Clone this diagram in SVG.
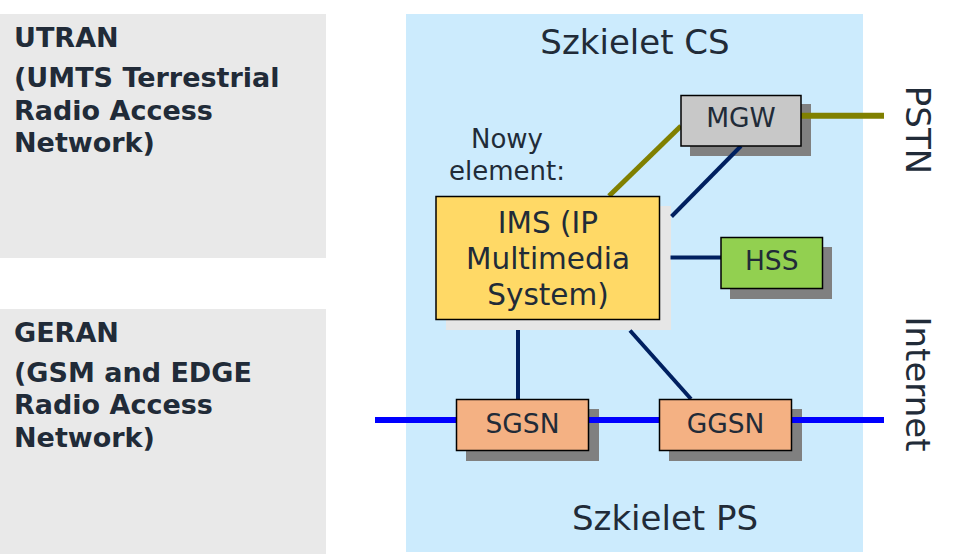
<svg xmlns="http://www.w3.org/2000/svg" width="955" height="554" viewBox="0 0 955 554">
<style>
text{font-family:"DejaVu Sans","Liberation Sans",sans-serif;fill:#212b38}
.ran{font-size:27px;font-weight:bold}
.big{font-size:34px;text-anchor:middle}
.lbl{font-size:26.5px;text-anchor:middle}
.ims{font-size:29.5px;text-anchor:middle}
.note{font-size:26px;text-anchor:middle}
.box{stroke:#000;stroke-width:1.5}
.shd{fill:#808080}
.olive{stroke:#808000;stroke-width:5;fill:none}
.navy{stroke:#002060;stroke-width:4;fill:none}
.blue{stroke:#0000ff;stroke-width:6;fill:none}
</style>
<rect width="955" height="554" fill="#fff"/>
<g id="utran">
<rect x="0" y="14" width="326" height="244" fill="#e9e9e9"/>
<text class="ran" x="14" y="47">UTRAN</text>
<text class="ran" x="14" y="87">(UMTS Terrestrial</text>
<text class="ran" x="14" y="119.5">Radio Access</text>
<text class="ran" x="14" y="152">Network)</text>
</g>
<g id="geran">
<rect x="0" y="309" width="326" height="245" fill="#e9e9e9"/>
<text class="ran" x="14" y="342">GERAN</text>
<text class="ran" x="14" y="382">(GSM and EDGE</text>
<text class="ran" x="14" y="414">Radio Access</text>
<text class="ran" x="14" y="447">Network)</text>
</g>
<g id="core">
<rect x="406" y="14" width="457" height="538" fill="#ccebfd"/>
<text class="big" x="635" y="54">Szkielet CS</text>
<text class="big" x="665" y="530">Szkielet PS</text>
</g>
<g id="new-element-note">
<text class="note" x="507" y="147.5">Nowy</text>
<text class="note" x="507" y="180">element:</text>
</g>
<g id="shadows">
<rect x="446" y="206" width="225" height="124" fill="#e6e6e6"/>
<rect class="shd" x="690" y="104" width="121" height="52"/>
<rect class="shd" x="730" y="247" width="102" height="52"/>
<rect class="shd" x="466" y="409" width="133" height="52"/>
<rect class="shd" x="669" y="409" width="133" height="52"/>
</g>
<g id="connectors">
<line class="olive" x1="609" y1="196" x2="681" y2="126"/>
<line class="olive" x1="800" y1="115.7" x2="884" y2="115.7" style="stroke-width:6"/>
<line class="navy" x1="671.5" y1="216.5" x2="741" y2="146"/>
<line class="navy" x1="670.5" y1="257.5" x2="721" y2="257.5"/>
<line class="navy" x1="518" y1="330" x2="518" y2="399"/>
<line class="navy" x1="630" y1="330.5" x2="691" y2="399"/>
<line class="blue" x1="375" y1="420" x2="884" y2="420"/>
</g>
<g id="mgw">
<rect class="box" x="681" y="95.5" width="120" height="50.5" fill="#c8c8c8"/>
<text class="lbl" x="741" y="127">MGW</text>
</g>
<g id="ims">
<rect class="box" x="436" y="196.5" width="223.5" height="123" fill="#ffd966"/>
<text class="ims" x="548" y="232.7">IMS (IP</text>
<text class="ims" x="548" y="269.3">Multimedia</text>
<text class="ims" x="548" y="305">System)</text>
</g>
<g id="hss">
<rect class="box" x="721" y="237.5" width="101.5" height="51" fill="#92d050"/>
<text class="lbl" x="771.7" y="270">HSS</text>
</g>
<g id="sgsn">
<rect class="box" x="456.5" y="399.5" width="132" height="51" fill="#f4b183"/>
<text class="lbl" x="522.5" y="432.7">SGSN</text>
</g>
<g id="ggsn">
<rect class="box" x="659.5" y="399.5" width="132" height="51" fill="#f4b183"/>
<text class="lbl" x="725.5" y="432.7">GGSN</text>
</g>
<g id="pstn">
<text class="big" transform="translate(906,130) rotate(90)" x="0" y="0">PSTN</text>
</g>
<g id="internet">
<text class="big" transform="translate(906,384) rotate(90)" x="0" y="0">Internet</text>
</g>
</svg>
